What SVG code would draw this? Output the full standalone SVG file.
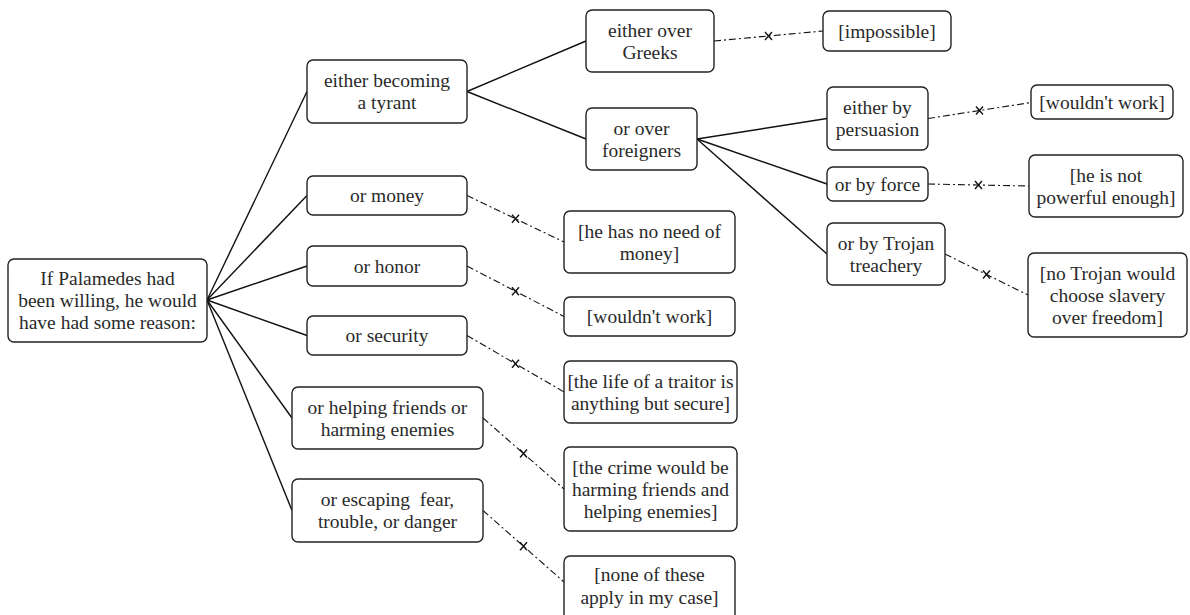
<svg xmlns="http://www.w3.org/2000/svg" width="1190" height="615" viewBox="0 0 1190 615">
<style>
.n rect{fill:#fff;stroke:#222;stroke-width:1.4}
.n text{font-family:"Liberation Serif","DejaVu Serif",serif;font-size:19.5px;fill:#2a2a2a;text-anchor:middle;dominant-baseline:central;white-space:pre}
.s{fill:none;stroke:#111;stroke-width:1.4}
.d{fill:none;stroke:#111;stroke-width:1.1;stroke-dasharray:7 3 2 3;marker-mid:url(#x)}
</style>
<defs>
<marker id="x" viewBox="-5 -5 10 10" markerWidth="10" markerHeight="10" markerUnits="userSpaceOnUse" orient="0">
<path d="M-3.5,-4 L3.5,4 M-3.5,4 L3.5,-4" stroke="#111" stroke-width="1.4" fill="none"/>
</marker>
</defs>
<g id="connectors">
<path class="s" d="M207,300 L307,91.5"/>
<path class="s" d="M207,300 L307,195.5"/>
<path class="s" d="M207,300 L307,266"/>
<path class="s" d="M207,300 L307,335.5"/>
<path class="s" d="M207,300 L292,418"/>
<path class="s" d="M207,300 L292,510.5"/>
<path class="s" d="M467,91.5 L586,41"/>
<path class="s" d="M467,91.5 L586,139"/>
<path class="s" d="M697,139 L827,118.5"/>
<path class="s" d="M697,139 L827,184"/>
<path class="s" d="M697,139 L827,254"/>
<path class="d" d="M714,41 L768.5,36 L823,31"/>
<path class="d" d="M928,118.5 L979.5,110.5 L1031,102.5"/>
<path class="d" d="M928,184 L978.5,185 L1029,186"/>
<path class="d" d="M945,254 L986.5,274.5 L1028,295"/>
<path class="d" d="M467,195.5 L515.5,218.75 L564,242"/>
<path class="d" d="M467,266 L515.5,291.25 L564,316.5"/>
<path class="d" d="M467,335.5 L515.5,363.75 L564,392"/>
<path class="d" d="M483,418 L523.5,453.5 L564,489"/>
<path class="d" d="M483,510.5 L523.5,546.25 L564,582"/>
</g>
<g id="root" class="n"><rect x="8" y="259" width="199" height="83" rx="6"/><text x="107.5" y="278">If Palamedes had</text><text x="107.5" y="300">been willing, he would</text><text x="107.5" y="322">have had some reason:</text></g>
<g id="tyrant" class="n"><rect x="307" y="60" width="160" height="63" rx="6"/><text x="387" y="80.5">either becoming</text><text x="387" y="102.5">a tyrant</text></g>
<g id="greeks" class="n"><rect x="586" y="10" width="128" height="62" rx="6"/><text x="650" y="30">either over</text><text x="650" y="52">Greeks</text></g>
<g id="impossible" class="n"><rect x="823" y="11" width="128" height="40" rx="6"/><text x="887" y="31">[impossible]</text></g>
<g id="foreigners" class="n"><rect x="586" y="108" width="111" height="62" rx="6"/><text x="641.5" y="128">or over</text><text x="641.5" y="150">foreigners</text></g>
<g id="persuasion" class="n"><rect x="827" y="87" width="101" height="63" rx="6"/><text x="877.5" y="107.5">either by</text><text x="877.5" y="129.5">persuasion</text></g>
<g id="wouldnt1" class="n"><rect x="1031" y="85" width="142" height="34" rx="6"/><text x="1102" y="102">[wouldn't work]</text></g>
<g id="force" class="n"><rect x="827" y="167" width="101" height="34" rx="6"/><text x="877.5" y="184">or by force</text></g>
<g id="notpowerful" class="n"><rect x="1029" y="155" width="154" height="62" rx="6"/><text x="1106" y="175">[he is not</text><text x="1106" y="197">powerful enough]</text></g>
<g id="trojan" class="n"><rect x="827" y="223" width="118" height="62" rx="6"/><text x="886" y="243">or by Trojan</text><text x="886" y="265">treachery</text></g>
<g id="notrojan" class="n"><rect x="1028" y="253" width="159" height="84" rx="6"/><text x="1107.5" y="273">[no Trojan would</text><text x="1107.5" y="295">choose slavery</text><text x="1107.5" y="317">over freedom]</text></g>
<g id="money" class="n"><rect x="307" y="176" width="160" height="39" rx="6"/><text x="387" y="195.5">or money</text></g>
<g id="noneed" class="n"><rect x="564" y="211" width="171" height="62" rx="6"/><text x="649.5" y="231">[he has no need of</text><text x="649.5" y="253">money]</text></g>
<g id="honor" class="n"><rect x="307" y="246" width="160" height="40" rx="6"/><text x="387" y="266">or honor</text></g>
<g id="wouldnt2" class="n"><rect x="564" y="297" width="171" height="39" rx="6"/><text x="649.5" y="316.5">[wouldn't work]</text></g>
<g id="security" class="n"><rect x="307" y="316" width="160" height="39" rx="6"/><text x="387" y="335.5">or security</text></g>
<g id="traitor" class="n"><rect x="564" y="361" width="173" height="62" rx="6"/><text x="650.5" y="381">[the life of a traitor is</text><text x="650.5" y="403">anything but secure]</text></g>
<g id="helping" class="n"><rect x="292" y="387" width="191" height="62" rx="6"/><text x="387.5" y="407">or helping friends or</text><text x="387.5" y="429">harming enemies</text></g>
<g id="crime" class="n"><rect x="564" y="447" width="173" height="84" rx="6"/><text x="650.5" y="467">[the crime would be</text><text x="650.5" y="489">harming friends and</text><text x="650.5" y="511">helping enemies]</text></g>
<g id="escaping" class="n"><rect x="292" y="479" width="191" height="63" rx="6"/><text x="387.5" y="499.5">or escaping  fear,</text><text x="387.5" y="521.5">trouble, or danger</text></g>
<g id="none" class="n"><rect x="564" y="556" width="171" height="64" rx="6"/><text x="649.5" y="574">[none of these</text><text x="649.5" y="597">apply in my case]</text></g>
</svg>
